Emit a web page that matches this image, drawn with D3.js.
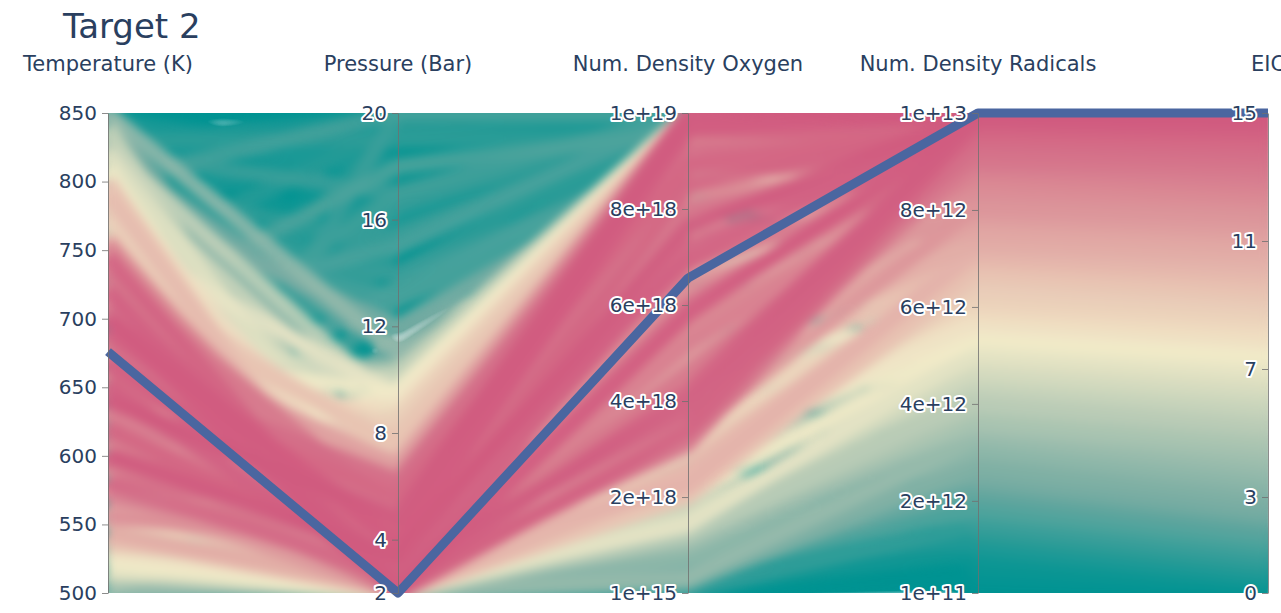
<!DOCTYPE html>
<html>
<head>
<meta charset="utf-8">
<script src="https://cdn.jsdelivr.net/npm/d3@7"></script>
<style>
  body { margin: 0; background: #fff; }
  text { font-family: "DejaVu Sans", Verdana, sans-serif; fill: #2a3f5f; }
</style>
</head>
<body>
<div id="chart"></div>
<script>
(function() {

var dimensions = ['Temperature (K)', 'Pressure (Bar)', 'Num. Density Oxygen', 'Num. Density Radicals', 'EIC'];

// one entry per simulated run (pink runs, cream runs, sage runs, teal runs, then extra runs)
var temperature = [
  700,650,620,720,600,745,580,690,640,710,665,595,735,625,570,680,755,605,655,725,585,700,615,660,740,
  575,635,690,560,750,610,675,645,590,715,565,630,760,545,685,655,600,730,620,670,
  790,780,800,770,740,700,660,620,580,550,535,540,565,620,690,745,795,760,720,640,600,560,530,775,675,
  710,650,590,760,545,
  810,820,805,760,700,640,570,520,515,522,525,600,680,750,830,620,545,730,528,560,660,790,815,540,700,
  850,850,840,850,845,850,830,800,780,760,720,700,680,650,630,600,580,560,540,520,500,500,505,500,510,
  500,530,620,700,780,820,790,740,660,590,550,515,835,770,690,610,640,560,730,850,815,525,570,800,510,
  820,760,700,640,560,510,580,670,740,800,850,845,790,530,620,
  520,815,830,505,840,535,825,515,835,545,
  500,505,520,500,510,680,770,600,
  705,630,580,745,610,665,725,555,690,650,
  785,725,600,555,660,
  520,830,505,845,515,820,540,850,500,810,
  512,515,525,505,840,
  850,825,780,735,810,660,600,845,790,700,
  560,620,700,760,530,815,540,505,520,840,500,560,830,
  800,740,680,620,760,840,650,600,700,720,580,760,
  640,700
];
var pressure = [
  2.1,2.4,3.0,2.3,4.2,2.0,2.6,3.6,5.0,2.8,4.4,2.2,3.2,6.0,3.8,2.5,2.6,5.6,3.3,4.0,4.8,5.2,2.0,6.4,3.8,
  2.0,3.9,6.8,3.2,2.2,6.6,4.9,2.7,5.9,6.0,2.4,7.0,3.0,2.2,2.0,5.6,3.4,5.0,4.6,3.0,
  2.4,3.6,2.0,5.0,7.2,8.2,8.8,9.2,8.6,6.4,3.0,2.0,2.0,2.0,2.2,2.0,4.6,6.4,7.6,7.8,7.4,5.0,2.2,2.6,9.5,
  3.4,2.0,2.6,4.0,4.4,
  2.0,5.0,8.0,9.4,9.8,10.2,9.6,8.0,3.4,2.0,2.0,2.0,2.0,2.2,3.2,10.4,9.0,10.0,2.6,2.0,2.4,7.0,2.6,2.2,2.0,
  20,16,12,8,4,2,18,20,14,18,20,15,17,20,13,16.5,19,14.5,20,17.5,20,12.5,2,2,2.4,
  3,2,2,2.2,2,11,10,12,10.5,11,10,15,14,16,19,18,2.6,3.4,2.8,11,6,6,7,13,9,
  17,20,18,17,18,19,15,13.5,16,15,14,18,17.5,13,19.5,
  4.0,5.5,7.5,5.0,3.0,7.0,9.0,2.0,2.4,3.6,
  2.2,2.0,2.6,2.0,3.2,3.0,2.4,4.2,
  4.6,2.2,5.2,4.4,3.6,6.2,2.1,4.0,4.2,2.0,
  3.0,6.8,8.0,3.2,2.6,
  3.0,4.5,4.2,6.5,2.8,3.6,5.4,5.0,2.4,8.5,
  2.0,2.2,2.0,2.6,2.0,
  18,20,19,14,13,15.5,13.5,9.5,12,12.5,
  3.0,2.4,2.6,2.2,4.0,3.8,2.8,2.0,2.2,2.4,2.6,18.5,19,
  18.5,19.5,14.0,15.0,13.0,16.5,3.6,2.8,4.0,5.4,3.0,2.4,
  4.8,3.8
];
var oxygen = [
  5.8e18,7.2e18,8.5e18,4.2e18,9.6e18,3.4e18,6.0e18,9.2e18,9.9e18,7.8e18,8.8e18,4.6e18,6.8e18,1e19,8.0e18,
  3.1e18,5.2e18,9.4e18,5.5e18,9.0e18,7.0e18,9.8e18,3.6e18,1e19,8.2e18,5.0e18,6.2e18,1e19,4.4e18,7.4e18,
  9.9e18,7.6e18,4.0e18,8.6e18,9.5e18,6.6e18,1e19,9.6e18,5.4e18,8.4e18,8.9e18,7.6e18,9.9e18,5.8e18,3.8e18,
  6.0e18,8.6e18,4.4e18,9.8e18,1e19,1e19,1e19,1e19,1e19,9.4e18,5.6e18,2.6e18,2.3e18,2.4e18,2.5e18,
  2.8e18,1e19,1e19,9.7e18,9.6e18,9.0e18,7.2e18,3.4e18,3.2e18,1e19,2.2e18,2.0e18,2.4e18,5.0e18,6.8e18,
  3.0e18,8.0e18,1e19,1e19,1e19,1e19,1e19,1e19,4.8e18,2.0e18,1.6e18,1.5e18,1.7e18,1.6e18,6.0e18,
  1e19,1e19,9.8e18,3.8e18,1.2e18,1.3e18,9.4e18,1.8e18,1.4e18,1.2e18,
  1e19,1e19,9.6e18,7.0e18,2.0e18,0.8e18,1e19,1e19,1e19,9.8e18,1e19,1e19,9.2e18,1e19,8.6e18,
  1e19,1e19,9.0e18,1e19,9.5e18,1e19,8.0e18,0.3e18,0.05e18,0.6e18,1.0e18,0.2e18,0.4e18,0.1e18,0.7e18,
  9.0e18,8.4e18,9.4e18,8.2e18,8.8e18,7.6e18,1e19,1e19,1e19,1e19,1e19,0.9e18,1.1e18,0.5e18,8.0e18,
  4.0e18,3.0e18,6.0e18,9.8e18,6.8e18,
  1e19,1e19,9.6e18,1e19,1e19,1e19,9.4e18,8.8e18,9.8e18,1e19,9.0e18,1e19,1e19,8.6e18,1e19,
  3.5e18,5.0e18,6.5e18,4.5e18,2.5e18,7.5e18,8.0e18,2.4e18,4.0e18,5.8e18,
  0.5e18,0.9e18,1.4e18,0.15e18,1.6e18,0.4e18,1.0e18,1.2e18,
  8.0e18,5.2e18,9.0e18,9.4e18,4.8e18,9.7e18,5.6e18,6.4e18,6.9e18,3.3e18,
  7.0e18,9.9e18,1e19,3.0e18,2.2e18,
  3.2e18,4.2e18,5.2e18,5.6e18,2.8e18,3.6e18,4.6e18,6.4e18,2.0e18,7.0e18,
  1.3e18,0.8e18,1.8e18,0.05e18,1.5e18,
  1e19,1e19,1e19,9.0e18,9.5e18,9.8e18,9.2e18,7.5e18,9.0e18,9.5e18,
  3.5e18,3.0e18,3.8e18,4.2e18,4.5e18,5.5e18,3.2e18,0.3e18,0.9e18,1.2e18,0.5e18,9.3e18,9.5e18,
  1e19,1e19,9.4e18,9.6e18,9.2e18,1e19,5.0e18,4.6e18,6.2e18,7.4e18,4.2e18,3.6e18,
  1e19,9.7e18
];
var radicals = [
  9.9e12,9.8e12,9.7e12,9.9e12,9.6e12,9.8e12,9.5e12,9.5e12,9.4e12,9.3e12,9.2e12,9.2e12,9.0e12,9.0e12,8.9e12,
  9.6e12,8.8e12,8.8e12,8.7e12,8.6e12,8.5e12,8.4e12,9.1e12,8.3e12,8.2e12,8.2e12,8.0e12,7.9e12,7.8e12,7.8e12,
  7.6e12,7.5e12,9.4e12,7.4e12,7.3e12,7.2e12,7.1e12,7.0e12,7.6e12,8.6e12,9.7e12,1.0e13,9.0e12,8.0e12,9.9e12,
  7.0e12,6.4e12,6.8e12,6.0e12,6.6e12,6.2e12,5.9e12,5.6e12,6.3e12,6.1e12,6.7e12,7.1e12,6.9e12,7.2e12,7.0e12,
  6.6e12,5.8e12,5.7e12,6.9e12,6.5e12,6.0e12,6.4e12,5.8e12,6.2e12,5.5e12,7.2e12,6.8e12,6.6e12,5.6e12,5.9e12,
  5.4e12,5.0e12,4.6e12,5.2e12,4.8e12,4.4e12,5.3e12,4.9e12,5.1e12,5.4e12,4.7e12,5.0e12,4.5e12,4.2e12,4.0e12,
  3.8e12,4.1e12,3.6e12,4.3e12,3.9e12,3.7e12,4.8e12,3.5e12,5.2e12,4.1e12,
  0.2e12,0.6e12,1.0e12,1.4e12,2.0e12,2.6e12,1.2e12,1.8e12,1.5e12,0.4e12,1.2e12,2.0e12,1.3e12,0.8e12,1.9e12,
  1.6e12,0.9e12,0.3e12,0.5e12,1.1e12,1.7e12,0.7e12,3.3e12,1.5e12,2.3e12,0.5e12,2.7e12,1.9e12,1.0e12,3.1e12,
  2.5e12,0.9e12,1.7e12,3.5e12,2.1e12,1.3e12,1.4e12,0.1e12,0.8e12,0.5e12,1.1e12,0.2e12,3.0e12,2.2e12,3.3e12,
  1.2e12,0.9e12,1.8e12,1.4e12,2.6e12,
  1.6e12,1.0e12,1.9e12,1.8e12,0.7e12,0.6e12,1.0e12,0.4e12,1.2e12,1.5e12,0.9e12,1.1e12,0.3e12,1.7e12,1.3e12,
  2.4e12,3.4e12,2.0e12,3.8e12,4.4e12,3.2e12,4.5e12,4.9e12,3.9e12,5.0e12,
  1.8e12,2.5e12,3.3e12,0.9e12,4.0e12,2.9e12,3.6e12,1.1e12,
  9.1e12,8.9e12,9.3e12,8.1e12,7.3e12,9.5e12,8.7e12,8.4e12,9.8e12,8.1e12,
  6.1e12,5.8e12,6.7e12,6.3e12,6.5e12,
  1.6e12,2.6e12,2.0e12,1.0e12,3.0e12,3.6e12,0.6e12,2.4e12,3.4e12,3.0e12,
  3.9e12,1.2e12,2.8e12,0.3e12,1.8e12,
  0.6e12,1.1e12,1.0e12,1.6e12,0.5e12,1.5e12,2.0e12,0.7e12,2.6e12,0.2e12,
  6.0e12,5.6e12,6.2e12,5.7e12,4.6e12,4.3e12,4.0e12,0.4e12,0.8e12,0.2e12,1.2e12,0.8e12,1.5e12,
  0.4e12,1.3e12,0.9e12,0.6e12,1.8e12,1.0e12,7.0e12,6.6e12,6.4e12,6.9e12,5.2e12,5.0e12,
  1.0e13,9.95e12
];
var eic = [
  14.8,14.6,14.4,14.7,14.2,14.5,14.1,14.0,13.8,13.7,13.5,13.6,13.2,13.1,13.0,13.9,12.8,12.7,12.6,12.4,
  12.3,12.2,13.3,12.0,11.9,11.8,11.6,11.4,11.2,11.3,11.0,10.9,13.9,10.7,10.5,10.4,10.2,10.1,10.8,12.5,
  14.3,14.9,13.4,11.7,14.6,
  9.9,9.0,9.6,8.5,9.3,8.8,8.2,7.8,8.9,8.6,9.4,10.0,9.7,10.2,9.8,9.2,8.1,7.9,9.5,9.1,8.4,9.0,8.0,8.7,7.5,
  10.3,9.6,9.3,7.8,8.2,
  7.4,6.8,6.1,7.1,6.4,5.8,7.3,6.6,6.9,7.5,6.3,6.8,5.9,5.4,5.1,4.8,5.2,4.6,5.6,5.0,4.7,6.5,4.4,7.0,5.3,
  0,0.2,0.5,0.9,1.8,2.8,0.6,1.5,1.0,0.1,0.6,1.6,0.8,0.3,1.5,1.2,0.3,0,0.1,0.4,1.3,0.1,4.0,1.1,2.3,
  0,3.0,1.6,0.4,3.6,2.6,0.2,1.4,4.2,2.0,0.8,0.9,0,0.2,0.1,0.5,0,3.4,2.2,3.9,0.7,0.3,1.7,1.0,2.7,
  1.3,0.4,1.7,1.4,0.1,0.1,0.5,0.0,0.6,1.0,0.3,0.6,0.0,1.4,0.9,
  2.4,4.0,1.8,4.7,5.7,3.6,5.9,6.6,5.0,6.9,
  1.7,2.6,3.8,0.2,5.2,3.2,4.4,0.6,
  13.2,12.9,13.7,11.9,10.6,14.0,12.6,12.3,14.5,11.9,
  8.6,8.0,9.4,8.9,9.1,
  1.3,2.8,1.9,0.4,3.3,4.3,0.0,2.5,3.9,3.4,
  4.6,0.7,3.0,0.0,1.6,
  0.1,0.5,0.5,1.2,0.1,1.2,1.6,0.2,2.8,0.0,
  8.4,7.8,8.7,7.9,6.2,5.6,5.3,0.0,0.2,0.0,0.7,0.2,1.0,
  0.0,0.8,0.3,0.1,1.5,0.4,10.0,9.3,9.0,9.6,7.2,6.9,
  14.9,14.8
];

// highlighted best run
var bestRun = [676, 2, 6.56e18, 1e13, 15];

var ranges = [[500, 850], [2, 20], [1e15, 1e19], [1e11, 1e13], [0, 15]];

var tickValues = [
  [500, 550, 600, 650, 700, 750, 800, 850],
  [2, 4, 8, 12, 16, 20],
  [1e15, 2e18, 4e18, 6e18, 8e18, 1e19],
  [1e11, 2e12, 4e12, 6e12, 8e12, 1e13],
  [0, 3, 7, 11, 15]
];
var tickLabels = [
  ['500', '550', '600', '650', '700', '750', '800', '850'],
  ['2', '4', '8', '12', '16', '20'],
  ['1e+15', '2e+18', '4e+18', '6e+18', '8e+18', '1e+19'],
  ['1e+11', '2e+12', '4e+12', '6e+12', '8e+12', '1e+13'],
  ['0', '3', '7', '11', '15']
];

var tealrose = ['#009392', '#72aaa1', '#b1c7b3', '#f1eac8', '#e5b9ad', '#d98994', '#d0587e'];

var width = 1281, height = 613;
var top = 113, bottom = 593, left = 108, right = 1268;

var svg = d3.select('#chart').append('svg')
    .attr('width', width)
    .attr('height', height);

var x = d3.scalePoint().domain(d3.range(dimensions.length)).range([left, right]);
var y = ranges.map(function(r) {
  return d3.scaleLinear().domain(r).range([bottom, top]);
});
var color = d3.scaleLinear()
    .domain(d3.range(tealrose.length).map(function(i) { return i * 15 / (tealrose.length - 1); }))
    .range(tealrose);

var columns = [temperature, pressure, oxygen, radicals, eic];
var rows = eic.map(function(e, i) {
  return columns.map(function(c) { return c[i]; });
});
rows.sort(function(a, b) { return a[4] - b[4]; });

var line = d3.line()
    .x(function(d, i) { return x(i); })
    .y(function(d, i) { return y[i](d); });

var defs = svg.append('defs');
defs.append('clipPath').attr('id', 'plotclip')
  .append('rect')
    .attr('x', left).attr('y', top)
    .attr('width', right - left).attr('height', bottom - top);

// soften the many lines into a continuous band, then firm up the alpha
var soft = defs.append('filter').attr('id', 'soft')
    .attr('x', '-5%').attr('y', '-5%').attr('width', '110%').attr('height', '110%')
    .attr('color-interpolation-filters', 'sRGB');
soft.append('feGaussianBlur').attr('stdDeviation', 4.5);
soft.append('feComponentTransfer')
  .append('feFuncA').attr('type', 'linear').attr('slope', 1.6).attr('intercept', 0);

svg.append('g')
    .attr('clip-path', 'url(#plotclip)')
  .append('g')
    .attr('filter', 'url(#soft)')
  .selectAll('path')
  .data(rows)
  .enter().append('path')
    .attr('d', line)
    .attr('fill', 'none')
    .attr('stroke', function(d) { return color(d[4]); })
    .attr('stroke-width', 15)
    .attr('stroke-opacity', 0.85);

svg.append('path')
    .datum(bestRun)
    .attr('d', line)
    .attr('fill', 'none')
    .attr('stroke', '#4a66a0')
    .attr('stroke-width', 9)
    .attr('stroke-linejoin', 'round');

dimensions.forEach(function(name, i) {
  var axis = d3.axisLeft(y[i])
      .tickValues(tickValues[i])
      .tickFormat(function(v, k) { return tickLabels[i][k]; })
      .tickSize(6)
      .tickSizeOuter(0)
      .tickPadding(5);

  var g = svg.append('g')
      .attr('transform', 'translate(' + x(i) + ',0)')
      .attr('color', '#2a3f5f')
      .call(axis);

  g.select('.domain').attr('stroke', '#6f6f6f').attr('stroke-opacity', 0.8);
  g.selectAll('.tick line').attr('stroke', '#6f6f6f').attr('stroke-opacity', 0.8);
  g.selectAll('.tick text')
      .attr('font-size', 20)
      .attr('font-family', '"DejaVu Sans", Verdana, sans-serif')
      .attr('fill', '#2a3f5f')
      .attr('stroke', '#fff')
      .attr('stroke-width', 4)
      .attr('stroke-linejoin', 'round')
      .attr('paint-order', 'stroke');

  svg.append('text')
      .attr('x', x(i))
      .attr('y', 71)
      .attr('text-anchor', 'middle')
      .attr('font-size', 21)
      .text(name);
});

svg.append('text')
    .attr('x', 63)
    .attr('y', 38)
    .attr('font-size', 34)
    .text('Target 2');

})();
</script>
</body>
</html>
